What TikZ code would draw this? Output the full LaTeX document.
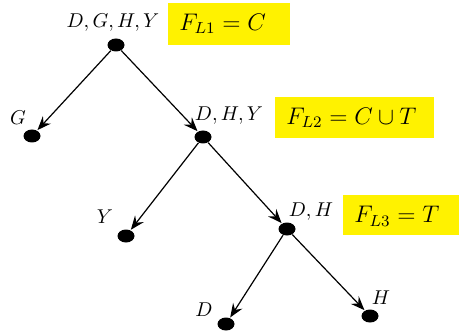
\documentclass[tikz,border=0pt]{standalone}
\usetikzlibrary{arrows.meta,shapes.geometric}
\begin{document}
\begin{tikzpicture}[x=0.5pt,y=-0.5pt,
  dot/.style={ellipse,fill=black,minimum width=8.5pt,minimum height=6.5pt,inner sep=0pt},
  edge/.style={-{Stealth[length=7pt,width=5.5pt,inset=2.5pt]},line width=0.6pt,shorten >=0.2pt},
  lab/.style={inner sep=0pt,font=\normalsize},
  flab/.style={inner sep=0pt,font=\large,anchor=west}]
\useasboundingbox (0,0) rectangle (459,331);
% yellow boxes
\fill[yellow] (168,3) rectangle (290,45);
\fill[yellow] (275,97) rectangle (434,138);
\fill[yellow] (343,195) rectangle (459,235);
\node[flab] (f1) at (179,24) {$F_{L1}=C$};
\node[flab] (f2) at (286,118) {$F_{L2}=C\cup T$};
\node[flab] (f3) at (354,216) {$F_{L3}=T$};
% dots
\node[dot] (r) at (116,45) {};
\node[dot] (g) at (32,136) {};
\node[dot] (dhy) at (203,137) {};
\node[dot] (y) at (126,236) {};
\node[dot] (dh) at (287,229) {};
\node[dot] (d) at (226,324) {};
\node[dot] (h) at (370,316) {};
% labels
\node[lab] (lr) at (113,23) {$D,G,H,Y$};
\node[lab] (lg) at (18,118) {$G$};
\node[lab] (ldhy) at (229,116) {$D,H,Y$};
\node[lab] (ly) at (105,217) {$Y$};
\node[lab] (ldh) at (311,212) {$D,H$};
\node[lab] (ld) at (204,310) {$D$};
\node[lab] (lh) at (381,298) {$H$};
% edges
\draw[edge] (r) -- (g);
\draw[edge] (r) -- (dhy);
\draw[edge] (dhy) -- (y);
\draw[edge] (dhy) -- (dh);
\draw[edge] (dh) -- (d);
\draw[edge] (dh) -- (h);
\end{tikzpicture}
\end{document}
